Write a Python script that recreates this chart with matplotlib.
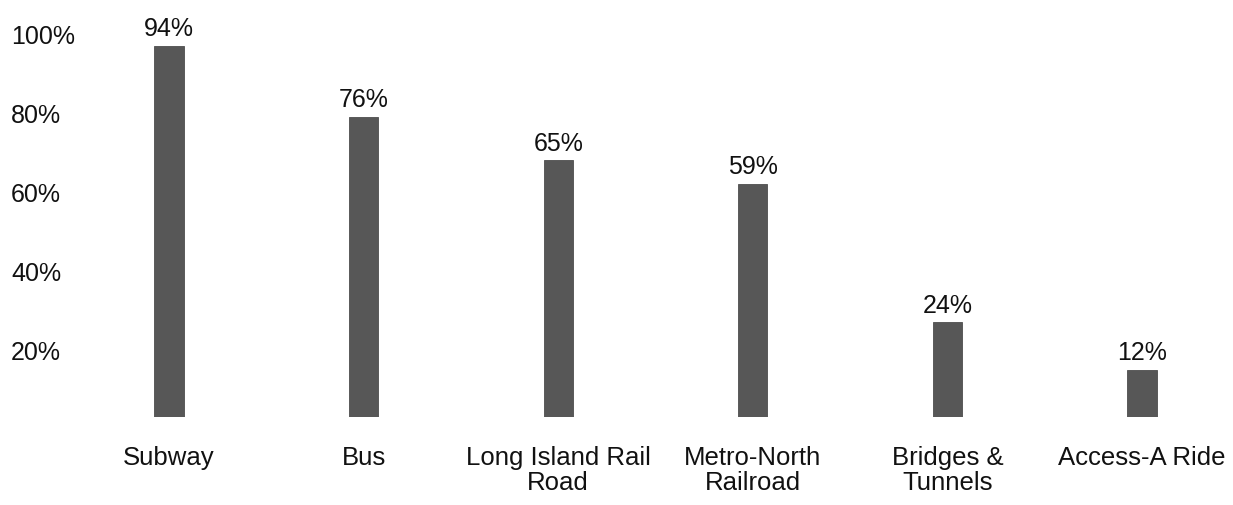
import matplotlib
matplotlib.use("Agg")
import matplotlib.pyplot as plt
import matplotlib.transforms as mtransforms

categories = ["Subway", "Bus", "Long Island Rail\nRoad", "Metro-North\nRailroad",
              "Bridges &\nTunnels", "Access-A Ride"]
values = [94, 76, 65, 59, 24, 12]
value_labels = ["94%", "76%", "65%", "59%", "24%", "12%"]
tick_values = [20, 40, 60, 80, 100]
tick_labels = ["20%", "40%", "60%", "80%", "100%"]

plt.rcParams['font.family'] = ['Liberation Sans', 'DejaVu Sans']

W, H = 1233, 506
fig = plt.figure(figsize=(W / 100, H / 100), dpi=100)
base_px = 418
top_px = 23
ax = fig.add_axes([0, (H - base_px) / H, 1, (base_px - top_px) / H])
ax.set_ylim(0, 100)
step = 194.6
x0 = 169
ax.set_xlim(-x0 / step, (W - x0) / step)
ax.axis('off')

xs = list(range(len(categories)))
ax.bar(xs, values, width=0.15, color='#575757', edgecolor='#4d4d4d', linewidth=0.6)

for x, v, lab in zip(xs, values, value_labels):
    ax.annotate(lab, (x, v), xytext=(0, 4), textcoords='offset points',
                ha='center', va='bottom', fontsize=18, color='#111111')

for x, c in zip(xs, categories):
    ax.annotate(c, (x, 0), xytext=(0, -20), textcoords='offset points',
                ha='center', va='top', fontsize=18.5, color='#111111', linespacing=1.05)

trans = mtransforms.blended_transform_factory(ax.transAxes, ax.transData)
for t, lab in zip(tick_values, tick_labels):
    ax.text(11 / W, t - 3.6, lab, transform=trans, ha='left', va='center',
            fontsize=18, color='#111111')

fig.savefig("out.png", dpi=100, facecolor='white')
